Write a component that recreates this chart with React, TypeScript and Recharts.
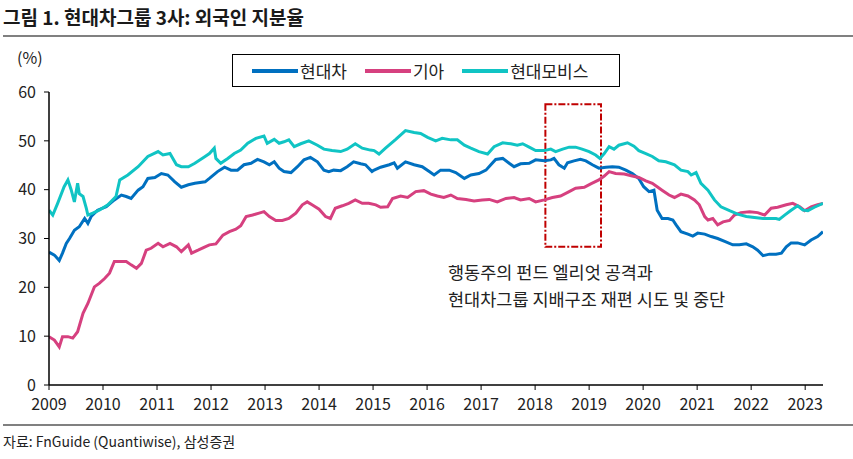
import { LineChart, Line, XAxis, YAxis, ReferenceArea } from "recharts";

// 현대차
const hyundaiYears = [
    2009.0, 2009.1, 2009.19, 2009.25, 2009.32, 2009.38, 2009.47, 2009.56, 2009.66, 2009.72,
    2009.78, 2009.9, 2010.06, 2010.21, 2010.34, 2010.43, 2010.52, 2010.65, 2010.74, 2010.83,
    2010.96, 2011.08, 2011.2, 2011.33, 2011.45, 2011.58, 2011.7, 2011.89, 2011.97, 2012.12,
    2012.25, 2012.37, 2012.49, 2012.61, 2012.74, 2012.86, 2012.98, 2013.08, 2013.17, 2013.26,
    2013.35, 2013.48, 2013.6, 2013.72, 2013.84, 2013.97, 2014.09, 2014.18, 2014.27, 2014.4,
    2014.52, 2014.64, 2014.77, 2014.86, 2014.98, 2015.02, 2015.14, 2015.3, 2015.39, 2015.45,
    2015.6, 2015.76, 2015.91, 2016.04, 2016.13, 2016.25, 2016.41, 2016.53, 2016.69, 2016.81,
    2016.96, 2017.09, 2017.18, 2017.27, 2017.4, 2017.52, 2017.61, 2017.73, 2017.89, 2018.01,
    2018.17, 2018.29, 2018.35, 2018.44, 2018.54, 2018.6, 2018.72, 2018.84, 2018.94, 2019.06,
    2019.18, 2019.31, 2019.43, 2019.55, 2019.68, 2019.8, 2019.92, 2020.01, 2020.11, 2020.2,
    2020.26, 2020.35, 2020.46, 2020.55, 2020.61, 2020.7, 2020.83, 2020.92, 2021.01, 2021.14,
    2021.26, 2021.38, 2021.51, 2021.66, 2021.78, 2021.91, 2022.03, 2022.12, 2022.22, 2022.34,
    2022.46, 2022.56, 2022.65, 2022.74, 2022.86, 2022.99, 2023.11, 2023.23, 2023.33,
];
const hyundaiValues = [
    27.2, 26.6, 25.5, 27.0, 29.0, 30.0, 31.7, 32.4, 34.1, 33.1,
    34.5, 35.8, 36.5, 37.9, 38.9, 38.6, 38.2, 39.9, 40.6, 42.3,
    42.5, 43.3, 43.0, 41.6, 40.5, 41.0, 41.3, 41.6, 42.3, 43.7,
    44.6, 44.0, 44.0, 45.1, 45.4, 46.2, 45.7, 45.1, 45.7, 44.4,
    43.7, 43.5, 44.7, 46.1, 46.6, 45.7, 44.0, 43.7, 44.0, 43.9,
    44.7, 45.7, 45.3, 45.1, 43.7, 44.0, 44.6, 45.1, 45.5, 44.4,
    45.7, 45.1, 44.7, 43.7, 43.0, 44.0, 44.0, 43.5, 42.3, 43.0,
    43.3, 44.0, 45.1, 46.2, 46.4, 45.4, 44.7, 45.3, 45.4, 46.1,
    45.9, 46.1, 46.4, 45.1, 44.4, 45.5, 45.9, 46.2, 45.9, 45.1,
    44.4, 44.6, 44.7, 44.6, 44.0, 43.3, 42.3, 40.6, 39.6, 39.9,
    35.8, 34.1, 34.1, 33.8, 32.8, 31.4, 30.9, 30.5, 31.1, 30.9,
    30.4, 30.0, 29.4, 28.7, 28.7, 28.9, 28.3, 27.6, 26.5, 26.8,
    26.8, 27.0, 28.3, 29.1, 29.1, 28.7, 29.7, 30.4, 31.4,
];

// 기아
const kiaYears = [
    2009.0, 2009.1, 2009.19, 2009.25, 2009.35, 2009.44, 2009.53, 2009.63, 2009.72, 2009.84,
    2009.93, 2010.03, 2010.12, 2010.21, 2010.34, 2010.43, 2010.52, 2010.62, 2010.71, 2010.8,
    2010.89, 2011.02, 2011.11, 2011.24, 2011.36, 2011.45, 2011.58, 2011.64, 2011.76, 2011.89,
    2011.97, 2012.09, 2012.22, 2012.34, 2012.46, 2012.55, 2012.65, 2012.77, 2012.89, 2012.98,
    2013.08, 2013.2, 2013.32, 2013.44, 2013.57, 2013.69, 2013.78, 2013.87, 2014.0, 2014.12,
    2014.21, 2014.3, 2014.43, 2014.55, 2014.67, 2014.8, 2014.92, 2015.05, 2015.14, 2015.27,
    2015.36, 2015.51, 2015.64, 2015.79, 2015.94, 2016.07, 2016.19, 2016.31, 2016.44, 2016.56,
    2016.72, 2016.87, 2017.02, 2017.15, 2017.3, 2017.46, 2017.61, 2017.73, 2017.89, 2018.01,
    2018.17, 2018.32, 2018.47, 2018.63, 2018.75, 2018.91, 2019.03, 2019.18, 2019.28, 2019.37,
    2019.49, 2019.65, 2019.8, 2019.92, 2020.05, 2020.17, 2020.26, 2020.35, 2020.48, 2020.58,
    2020.7, 2020.83, 2020.95, 2021.04, 2021.14, 2021.2, 2021.29, 2021.38, 2021.48, 2021.6,
    2021.69, 2021.81, 2021.97, 2022.12, 2022.25, 2022.37, 2022.49, 2022.65, 2022.77, 2022.9,
    2022.99, 2023.11, 2023.23, 2023.33,
];
const kiaValues = [
    9.9, 9.2, 7.8, 9.9, 9.9, 9.6, 10.9, 14.7, 16.7, 20.1,
    20.8, 21.8, 22.9, 25.3, 25.3, 25.3, 24.6, 23.9, 24.9, 27.6,
    28.0, 29.0, 28.3, 29.0, 28.3, 27.3, 28.7, 27.0, 27.6, 28.3,
    28.7, 28.9, 30.7, 31.4, 31.9, 32.6, 34.5, 34.8, 35.2, 35.5,
    34.5, 33.7, 33.7, 34.1, 35.2, 36.9, 37.5, 36.9, 36.0, 34.5,
    34.1, 36.2, 36.7, 37.2, 37.9, 37.2, 37.2, 36.9, 36.4, 36.5,
    38.2, 38.7, 38.4, 39.6, 39.8, 39.1, 38.7, 38.4, 38.9, 38.2,
    38.0, 37.7, 37.9, 38.0, 37.5, 38.2, 38.4, 37.9, 38.2, 37.5,
    37.9, 38.4, 38.7, 39.6, 40.3, 40.5, 41.2, 42.0, 42.8, 43.7,
    43.3, 43.2, 42.8, 42.5, 41.8, 41.3, 40.6, 39.9, 38.9, 38.4,
    39.1, 38.7, 37.9, 36.9, 34.5, 33.8, 34.1, 32.8, 33.4, 33.7,
    34.8, 35.3, 35.5, 35.3, 34.8, 36.2, 36.4, 36.9, 37.2, 36.5,
    35.7, 36.5, 36.9, 37.2,
];

// 현대모비스
const mobisYears = [
    2009.0, 2009.07, 2009.16, 2009.28, 2009.35, 2009.41, 2009.47, 2009.53, 2009.56, 2009.63,
    2009.69, 2009.72, 2009.81, 2009.93, 2010.09, 2010.24, 2010.31, 2010.46, 2010.65, 2010.83,
    2011.02, 2011.11, 2011.24, 2011.36, 2011.45, 2011.58, 2011.7, 2011.89, 2011.97, 2012.06,
    2012.09, 2012.18, 2012.31, 2012.43, 2012.55, 2012.68, 2012.83, 2012.98, 2013.04, 2013.17,
    2013.26, 2013.35, 2013.44, 2013.54, 2013.66, 2013.81, 2013.97, 2014.09, 2014.24, 2014.4,
    2014.52, 2014.67, 2014.8, 2014.95, 2015.02, 2015.11, 2015.23, 2015.42, 2015.6, 2015.76,
    2015.88, 2016.01, 2016.16, 2016.28, 2016.44, 2016.56, 2016.69, 2016.81, 2016.96, 2017.12,
    2017.24, 2017.4, 2017.55, 2017.67, 2017.77, 2017.89, 2018.01, 2018.17, 2018.29, 2018.38,
    2018.51, 2018.63, 2018.75, 2018.87, 2019.0, 2019.12, 2019.2, 2019.28, 2019.37, 2019.46,
    2019.55, 2019.71, 2019.83, 2019.92, 2020.05, 2020.17, 2020.29, 2020.42, 2020.58, 2020.7,
    2020.83, 2020.89, 2020.98, 2021.07, 2021.2, 2021.32, 2021.44, 2021.6, 2021.75, 2021.91,
    2022.06, 2022.22, 2022.34, 2022.46, 2022.52, 2022.62, 2022.74, 2022.86, 2022.96, 2023.05,
    2023.17, 2023.33,
];
const mobisValues = [
    35.8, 34.8, 37.2, 40.6, 42.0, 40.0, 37.5, 41.3, 39.2, 38.6,
    36.2, 34.8, 35.2, 35.8, 36.9, 38.6, 42.0, 43.0, 44.7, 46.8,
    47.8, 47.1, 47.4, 45.1, 44.7, 44.7, 45.4, 46.8, 47.4, 48.5,
    46.4, 45.4, 46.4, 47.4, 48.1, 49.5, 50.5, 51.0, 49.5, 50.3,
    49.5, 49.8, 50.2, 48.8, 49.4, 50.0, 49.1, 48.3, 48.0, 47.8,
    48.3, 49.4, 48.5, 48.1, 48.0, 47.3, 48.5, 50.3, 52.1, 51.7,
    51.5, 50.7, 50.0, 50.5, 50.2, 50.2, 49.1, 48.5, 47.8, 47.3,
    48.8, 49.6, 49.4, 49.1, 49.4, 48.7, 48.0, 48.0, 48.3, 47.8,
    48.3, 48.7, 48.7, 48.3, 47.8, 47.1, 46.4, 47.4, 48.8, 48.3,
    49.1, 49.6, 48.9, 48.0, 47.4, 46.8, 45.9, 45.7, 45.1, 44.0,
    43.7, 43.0, 43.5, 41.3, 39.9, 37.9, 36.5, 35.7, 35.0, 34.5,
    34.3, 34.1, 34.1, 34.1, 33.9, 34.8, 35.8, 36.7, 35.8, 35.7,
    36.4, 37.2,
];

const seriesNames = ["현대차", "기아", "현대모비스"];
const seriesColors = ["#0070C0", "#D6407F", "#10C4C4"];

const yearTicks = [2009, 2010, 2011, 2012, 2013, 2014, 2015, 2016, 2017, 2018, 2019, 2020, 2021, 2022, 2023];
const valueTicks = [0, 10, 20, 30, 40, 50, 60];

// 엘리엇 공격 ~ 지배구조 재편 중단 구간
const highlightFrom = 2018.19;
const highlightTo = 2019.22;
const highlightLow = 28.3;
const highlightHigh = 57.5;

const toPoints = (years: number[], values: number[]) =>
    years.map((x, i) => ({ x, y: values[i] }));

const seriesData = [
    toPoints(hyundaiYears, hyundaiValues),
    toPoints(kiaYears, kiaValues),
    toPoints(mobisYears, mobisValues),
];

const FONT = '"Noto Sans CJK KR", "Noto Sans", sans-serif';

const App = () => {
    return (
        <div
            style={{
                position: "absolute",
                left: 0,
                top: 0,
                width: 853,
                height: 459,
                background: "#fff",
                fontFamily: FONT,
                overflow: "hidden",
            }}
        >
            <div
                style={{
                    position: "absolute",
                    left: 3,
                    top: 3,
                    fontSize: 19,
                    fontWeight: 700,
                    color: "#1a1a1a",
                    lineHeight: "28px",
                    whiteSpace: "nowrap",
                }}
            >
                그림 1. 현대차그룹 3사: 외국인 지분율
            </div>
            <div style={{ position: "absolute", left: 3, top: 35, width: 850, height: 2, background: "#808080" }} />
            <div style={{ position: "absolute", left: 17, top: 45, fontSize: 16, color: "#222" }}>(%)</div>

            <LineChart
                width={853}
                height={459}
                margin={{ top: 92, right: 30, bottom: 44, left: 9 }}
                style={{ position: "absolute", left: 0, top: 0 }}
            >
                <XAxis
                    dataKey="x"
                    type="number"
                    domain={[2009, 2023.33]}
                    ticks={yearTicks}
                    allowDataOverflow
                    height={30}
                    tickSize={5}
                    tickMargin={9}
                    axisLine={{ stroke: "#000", strokeWidth: 1.5 }}
                    tickLine={{ stroke: "#000" }}
                    tick={{ fill: "#222", fontSize: 16, fontFamily: FONT }}
                />
                <YAxis
                    type="number"
                    domain={[0, 60]}
                    ticks={valueTicks}
                    width={40}
                    tickSize={5}
                    tickMargin={8}
                    axisLine={{ stroke: "#000", strokeWidth: 1.5 }}
                    tickLine={{ stroke: "#000" }}
                    tick={{ fill: "#222", fontSize: 16, fontFamily: FONT }}
                />
                <ReferenceArea
                    x1={highlightFrom}
                    x2={highlightTo}
                    y1={highlightLow}
                    y2={highlightHigh}
                    fill="none"
                    fillOpacity={0}
                    stroke="#C00000"
                    strokeWidth={2}
                    strokeDasharray="7 2 2 2"
                />
                {seriesData.map((d, i) => (
                    <Line
                        key={seriesNames[i]}
                        data={d}
                        dataKey="y"
                        name={seriesNames[i]}
                        stroke={seriesColors[i]}
                        strokeWidth={3}
                        dot={false}
                        isAnimationActive={false}
                    />
                ))}
            </LineChart>

            <div
                style={{
                    position: "absolute",
                    left: 232,
                    top: 54,
                    width: 388,
                    height: 33,
                    border: "1px solid #000",
                    boxSizing: "border-box",
                    display: "flex",
                    alignItems: "center",
                    paddingLeft: 19,
                    background: "#fff",
                }}
            >
                {seriesNames.map((n, i) => (
                    <div key={n} style={{ display: "flex", alignItems: "center", marginRight: 18 }}>
                        <span style={{ display: "inline-block", width: 46, height: 4, background: seriesColors[i] }} />
                        <span style={{ fontSize: 17, color: "#222", marginLeft: 2, lineHeight: "20px" }}>{n}</span>
                    </div>
                ))}
            </div>

            <div
                style={{
                    position: "absolute",
                    left: 448,
                    top: 258,
                    fontSize: 17.5,
                    lineHeight: "27px",
                    color: "#222",
                    whiteSpace: "nowrap",
                }}
            >
                행동주의 펀드 엘리엇 공격과
                <br />
                현대차그룹 지배구조 재편 시도 및 중단
            </div>

            <div style={{ position: "absolute", left: 3, top: 424, width: 850, height: 2, background: "#808080" }} />
            <div style={{ position: "absolute", left: 3, top: 431, fontSize: 14, color: "#222", whiteSpace: "nowrap" }}>
                자료: FnGuide (Quantiwise), 삼성증권
            </div>
        </div>
    );
};

export default App;
